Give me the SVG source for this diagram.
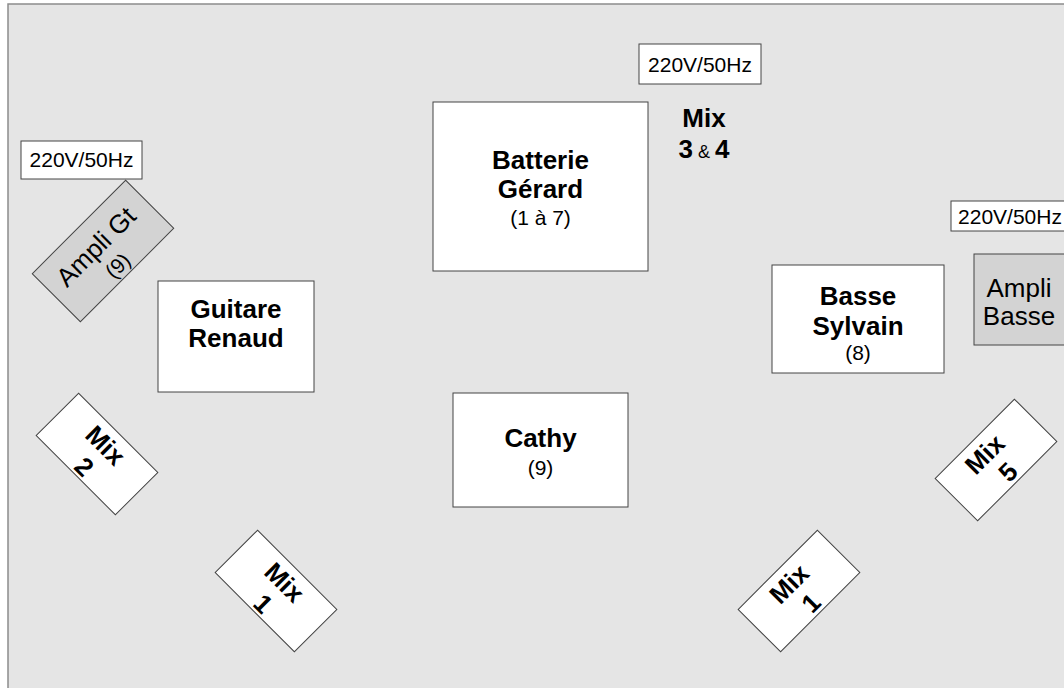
<svg xmlns="http://www.w3.org/2000/svg" width="1064" height="688" viewBox="0 0 1064 688">
<style>
.bg{fill:#e5e5e5;stroke:#8c8c8c;stroke-width:1.5}
.box{fill:#fff;stroke:#444;stroke-width:1}
.amp{fill:#d3d3d3;stroke:#444;stroke-width:1}
text{font-family:"Liberation Sans",Arial,sans-serif;fill:#000;text-anchor:middle}
.b{font-size:26px;font-weight:bold}
.r{font-size:26px}
.s{font-size:21px}
.amp-s{font-size:18px;font-weight:normal}
</style>
<rect class="bg" x="8" y="4" width="1070" height="700"/>
<g id="connectors"/>
<g id="power-left">
<rect class="box" x="21" y="141" width="121" height="38"/>
<text class="s" x="81.5" y="167">220V/50Hz</text>
</g>
<g id="power-top">
<rect class="box" x="639" y="44" width="122" height="40"/>
<text class="s" x="700" y="72">220V/50Hz</text>
</g>
<g id="power-right">
<rect class="box" x="951" y="201" width="122" height="30"/>
<text class="s" x="1010" y="224">220V/50Hz</text>
</g>
<g id="ampli-gt" transform="translate(103,251) rotate(-45)">
<rect class="amp" x="-66" y="-34" width="132" height="68"/>
<text class="r" x="-2" y="1">Ampli Gt</text>
<text class="s" x="0" y="28">(9)</text>
</g>
<g id="ampli-basse">
<rect class="amp" x="974" y="254" width="100" height="91"/>
<text class="r" x="1019" y="297">Ampli</text>
<text class="r" x="1019" y="325">Basse</text>
</g>
<g id="guitare">
<rect class="box" x="158" y="281" width="156" height="111"/>
<text class="b" x="236" y="318">Guitare</text>
<text class="b" x="236" y="347">Renaud</text>
</g>
<g id="batterie">
<rect class="box" x="433" y="102" width="215" height="169"/>
<text class="b" x="540.5" y="169">Batterie</text>
<text class="b" x="540.5" y="198">Gérard</text>
<text class="s" x="540.5" y="225">(1 à 7)</text>
</g>
<g id="mix34">
<text class="b" x="704" y="127">Mix</text>
<text class="b" x="704" y="158">3<tspan class="amp-s"> &amp; </tspan>4</text>
</g>
<g id="cathy">
<rect class="box" x="453" y="393" width="175" height="114"/>
<text class="b" x="540.5" y="447">Cathy</text>
<text class="s" x="540.5" y="475">(9)</text>
</g>
<g id="basse">
<rect class="box" x="772" y="265" width="172" height="108"/>
<text class="b" x="858" y="305">Basse</text>
<text class="b" x="858" y="335">Sylvain</text>
<text class="s" x="858" y="360">(8)</text>
</g>
<g id="mix2" transform="translate(97,454) rotate(45)">
<rect class="box" x="-56" y="-30" width="112" height="60"/>
<text class="b" x="0" y="-3">Mix</text>
<text class="b" x="0" y="27">2</text>
</g>
<g id="mix1-left" transform="translate(276,591) rotate(45)">
<rect class="box" x="-56" y="-30" width="112" height="60"/>
<text class="b" x="0" y="-3">Mix</text>
<text class="b" x="0" y="27">1</text>
</g>
<g id="mix1-right" transform="translate(799,591) rotate(-45)">
<rect class="box" x="-56" y="-30" width="112" height="60"/>
<text class="b" x="-2" y="-3">Mix</text>
<text class="b" x="0" y="26">1</text>
</g>
<g id="mix5" transform="translate(996,460) rotate(-45)">
<rect class="box" x="-56" y="-30" width="112" height="60"/>
<text class="b" x="-4" y="-3">Mix</text>
<text class="b" x="0" y="26">5</text>
</g>
</svg>
